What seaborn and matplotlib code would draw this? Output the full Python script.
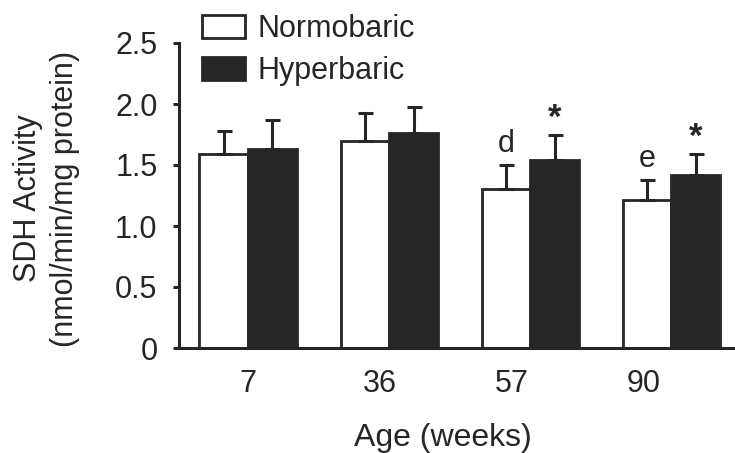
import matplotlib
matplotlib.use("Agg")
import matplotlib.pyplot as plt
from matplotlib.patches import Patch
import seaborn as sns
import pandas as pd

# Data: SDH activity (mean and SD) by age group
ages = ["7", "36", "57", "90"]
groups = ["Normobaric", "Hyperbaric"]
normobaric_mean = [1.59, 1.70, 1.30, 1.21]
hyperbaric_mean = [1.63, 1.76, 1.54, 1.42]
normobaric_sd = [0.19, 0.23, 0.20, 0.17]
hyperbaric_sd = [0.235, 0.215, 0.21, 0.17]
normobaric_marks = ["", "", "d", "e"]
hyperbaric_marks = ["", "", "*", "*"]
y_ticks = [0, 0.5, 1.0, 1.5, 2.0, 2.5]
y_tick_labels = ["0", "0.5", "1.0", "1.5", "2.0", "2.5"]

df = pd.DataFrame({
    "age": ages * 2,
    "group": [groups[0]] * 4 + [groups[1]] * 4,
    "sdh": normobaric_mean + hyperbaric_mean,
})

sns.set_style("ticks")
plt.rcParams["font.family"] = ["Liberation Sans", "DejaVu Sans"]

dark = "#262626"
fig = plt.figure(figsize=(7.35, 4.53), dpi=100)
ax = fig.add_axes([179 / 735, 105 / 453, 556 / 735, 305 / 453])

sns.barplot(data=df, x="age", y="sdh", hue="group", order=ages,
            hue_order=groups, palette={groups[0]: "white", groups[1]: dark},
            edgecolor=dark, linewidth=2.0, width=0.69, errorbar=None,
            saturation=1, ax=ax, legend=False)

# Upward-only SD bars and significance marks
sds = [normobaric_sd, hyperbaric_sd]
marks = [normobaric_marks, hyperbaric_marks]
for container, sd, mk in zip(ax.containers, sds, marks):
    xs = [b.get_x() + b.get_width() / 2 for b in container]
    hs = [b.get_height() for b in container]
    ax.errorbar(xs, hs, yerr=[[0] * len(sd), sd], fmt="none", ecolor=dark,
                elinewidth=2.2, capsize=5.4, capthick=2.2, zorder=1)
    for x, h, s, m in zip(xs, hs, sd, mk):
        if not m:
            continue
        if m == "*":
            ax.annotate(m, xy=(x, h + s), xytext=(0, 0),
                        textcoords="offset points", ha="center", va="bottom",
                        fontsize=25, fontweight="bold", color=dark)
        else:
            ax.annotate(m, xy=(x, h + s), xytext=(0, 15),
                        textcoords="offset points", ha="center", va="center",
                        fontsize=22, color=dark)

ax.set_xlim(-0.49, 3.45)
ax.set_ylim(0, 2.5)
ax.set_yticks(y_ticks)
ax.set_yticklabels(y_tick_labels)
ax.set_xticks([i * 0.935 for i in range(len(ages))])
ax.set_xticklabels(ages)
ax.tick_params(axis="x", length=0, pad=15, labelsize=22, colors=dark)
ax.tick_params(axis="y", length=4.5, width=2.2, pad=11, labelsize=22,
               colors=dark)

for side in ("top", "right"):
    ax.spines[side].set_visible(False)
for side in ("left", "bottom"):
    ax.spines[side].set_linewidth(2.2)
    ax.spines[side].set_color(dark)

ax.set_xlabel("Age (weeks)", fontsize=23, color=dark)
ax.xaxis.set_label_coords(0.475, -0.245)
ax.set_ylabel("SDH Activity\n(nmol/min/mg protein)", fontsize=22,
              color=dark, linespacing=1.3)
ax.yaxis.set_label_coords(-0.178, 0.49)

handles = [Patch(facecolor="white", edgecolor=dark, linewidth=2.0),
           Patch(facecolor=dark, edgecolor=dark, linewidth=2.0)]
fig.legend(handles, groups, loc="upper left",
           bbox_to_anchor=(202 / 735, 1 - 14 / 453), frameon=False,
           fontsize=22, handlelength=1.4, handleheight=0.75,
           handletextpad=0.4, labelspacing=0.4, borderpad=0,
           borderaxespad=0)

fig.savefig("out.png", dpi=100)
